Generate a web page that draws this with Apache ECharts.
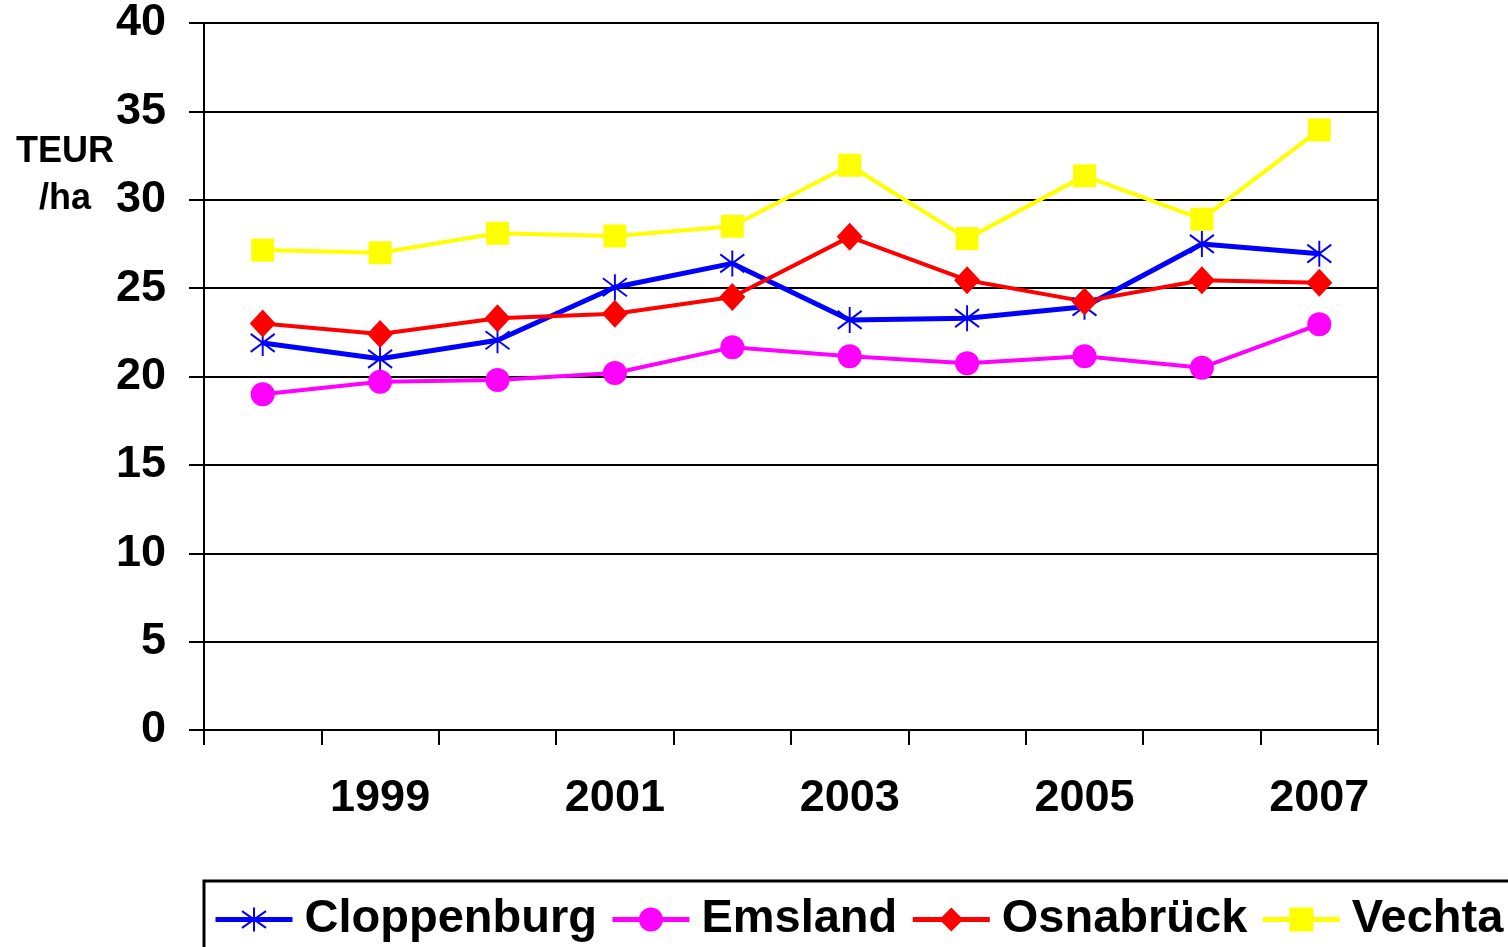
<!DOCTYPE html>
<html>
<head>
<meta charset="utf-8">
<script src="https://cdn.jsdelivr.net/npm/echarts@6/dist/echarts.min.js"></script>
<style>
  html, body { margin: 0; padding: 0; background: #fff; }
  #chart { width: 1508px; height: 947px; }
</style>
</head>
<body>
<div id="chart"></div>
<script>
const years = ["1998", "1999", "2000", "2001", "2002", "2003", "2004", "2005", "2006", "2007"];
const cloppenburg = [21.9, 21.0, 22.05, 25.05, 26.4, 23.2, 23.3, 23.95, 27.5, 26.95];
const emsland = [19.0, 19.7, 19.8, 20.2, 21.65, 21.15, 20.75, 21.15, 20.5, 22.95];
const osnabrueck = [23.0, 22.4, 23.3, 23.55, 24.5, 27.9, 25.45, 24.25, 25.45, 25.3];
const vechta = [27.15, 27.0, 28.1, 27.95, 28.5, 31.95, 27.8, 31.35, 28.9, 33.95];

const FONT = "'Liberation Sans', Arial, sans-serif";
const star = "path://M0,-13L0,13M-12,-9L12,9M-12,9L12,-9";

const chart = echarts.init(document.getElementById("chart"));

function line(name, data, color, width, symbol, size, extra) {
  return Object.assign({
    name: name,
    type: "line",
    data: data,
    symbol: symbol,
    symbolSize: size,
    showAllSymbol: true,
    animation: false,
    lineStyle: { color: color, width: width },
    itemStyle: { color: color }
  }, extra || {});
}

chart.setOption({
  backgroundColor: "#fff",
  animation: false,
  textStyle: { fontFamily: FONT },
  title: {
    text: "TEUR\n/ha",
    left: 60,
    top: 124,
    textAlign: "center",
    textStyle: { fontFamily: FONT, fontWeight: "bold", fontSize: 36, lineHeight: 47, color: "#000" }
  },
  grid: {
    left: 204, right: 130, top: 23, bottom: 217,
    show: true, borderColor: "#000", borderWidth: 2
  },
  legend: {
    left: 204,
    top: 881,
    width: 1500,
    padding: [15, 60, 40, 9],
    itemWidth: 77,
    itemHeight: 30,
    itemGap: 13,
    borderColor: "#000",
    borderWidth: 3,
    lineStyle: { width: 5 },
    textStyle: { fontFamily: FONT, fontWeight: "bold", fontSize: 47, color: "#000", padding: [0, 0, 0, 7] },
    data: ["Cloppenburg", "Emsland", "Osnabrück", "Vechta"]
  },
  xAxis: {
    type: "category",
    data: years,
    boundaryGap: true,
    axisLine: { lineStyle: { color: "#000", width: 2 } },
    axisTick: { show: true, interval: 0, length: 15, lineStyle: { color: "#000", width: 2 } },
    axisLabel: {
      interval: function (i) { return i % 2 === 1; },
      margin: 46,
      fontFamily: FONT, fontWeight: "bold", fontSize: 45, color: "#000"
    },
    splitLine: { show: false }
  },
  yAxis: {
    type: "value",
    min: 0, max: 40, interval: 5,
    axisLine: { show: true, lineStyle: { color: "#000", width: 2 } },
    axisTick: { show: true, length: 15, lineStyle: { color: "#000", width: 2 } },
    axisLabel: { margin: 38, fontFamily: FONT, fontWeight: "bold", fontSize: 45, color: "#000" },
    splitLine: { show: true, lineStyle: { color: "#000", width: 2 } }
  },
  series: [
    line("Cloppenburg", cloppenburg, "#0000ff", 5, star, [24, 26],
      { itemStyle: { color: "#0000ff", borderColor: "#0000ff", borderWidth: 2 } }),
    line("Emsland", emsland, "#ff00ff", 4, "circle", 24),
    line("Osnabrück", osnabrueck, "#ff0000", 4, "diamond", [26, 28]),
    line("Vechta", vechta, "#ffff00", 4, "rect", 23)
  ]
});
</script>
</body>
</html>
